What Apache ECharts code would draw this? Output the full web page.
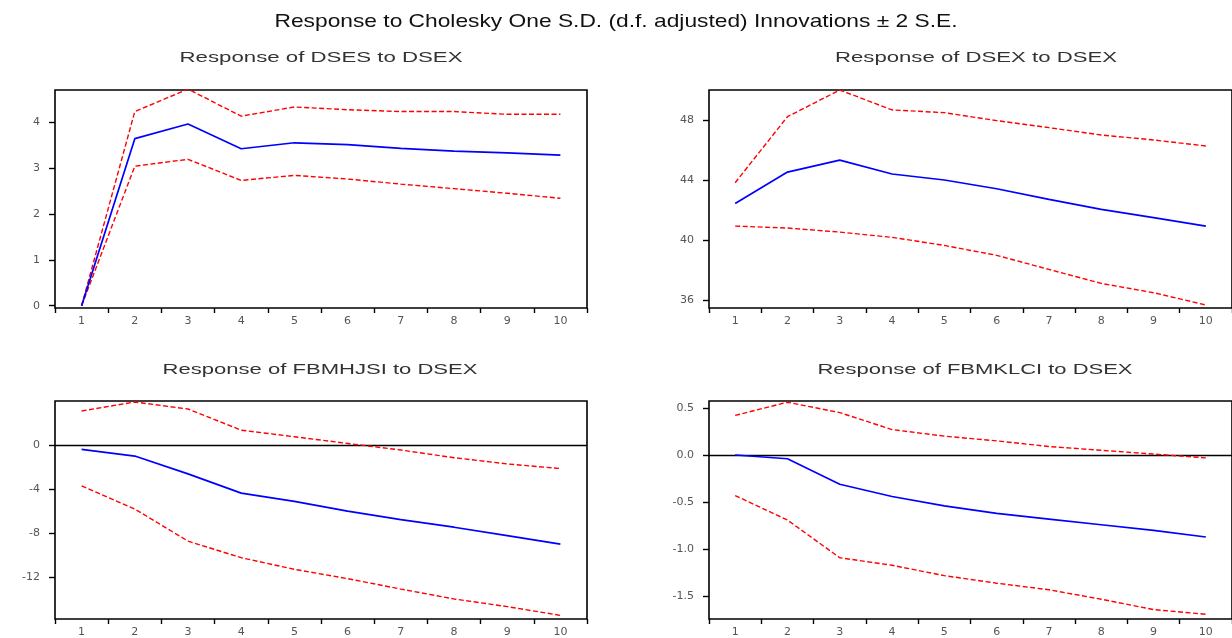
<!DOCTYPE html>
<html>
<head>
<meta charset="utf-8">
<script src="https://cdn.jsdelivr.net/npm/echarts@6/dist/echarts.min.js"></script>
<style>
html,body{margin:0;padding:0;background:#fff;}
#chart{width:1232px;height:638px;}
</style>
</head>
<body>
<div id="chart"></div>
<script>
const periods = ['1','2','3','4','5','6','7','8','9','10'];

const mainTitle = 'Response to Cholesky One S.D. (d.f. adjusted) Innovations ± 2 S.E.';
const panelTitles = ['Response of DSES to DSEX', 'Response of DSEX to DSEX',
                     'Response of FBMHJSI to DSEX', 'Response of FBMKLCI to DSEX'];

// Response of DSES to DSEX
const dsesResp  = [0, 3.64, 3.96, 3.42, 3.55, 3.51, 3.43, 3.37, 3.33, 3.28];
const dsesUpper = [0, 4.23, 4.72, 4.13, 4.33, 4.27, 4.23, 4.23, 4.17, 4.17];
const dsesLower = [0, 3.04, 3.19, 2.73, 2.84, 2.76, 2.65, 2.55, 2.45, 2.34];
const dsesTicks = [0, 1, 2, 3, 4];

// Response of DSEX to DSEX
const dsexResp  = [42.44, 44.53, 45.33, 44.40, 44.00, 43.42, 42.71, 42.04, 41.49, 40.93];
const dsexUpper = [43.82, 48.22, 50.00, 48.67, 48.49, 47.96, 47.49, 47.00, 46.67, 46.27];
const dsexLower = [40.93, 40.80, 40.53, 40.18, 39.64, 38.98, 38.04, 37.11, 36.49, 35.67];
const dsexTicks = [36, 40, 44, 48];

// Response of FBMHJSI to DSEX
const hjsiResp  = [-0.36, -0.97, -2.60, -4.35, -5.10, -6.00, -6.77, -7.46, -8.22, -9.00];
const hjsiUpper = [3.14, 3.96, 3.32, 1.39, 0.79, 0.18, -0.42, -1.12, -1.69, -2.11];
const hjsiLower = [-3.69, -5.80, -8.73, -10.24, -11.30, -12.15, -13.10, -14.00, -14.70, -15.50];
const hjsiTicks = [-12, -8, -4, 0];

// Response of FBMKLCI to DSEX
const klciResp  = [0.00, -0.04, -0.31, -0.44, -0.54, -0.62, -0.68, -0.74, -0.80, -0.87];
const klciUpper = [0.42, 0.56, 0.45, 0.27, 0.20, 0.15, 0.09, 0.05, 0.01, -0.03];
const klciLower = [-0.43, -0.69, -1.09, -1.17, -1.28, -1.36, -1.43, -1.53, -1.64, -1.69];
const klciTicks = [-1.5, -1.0, -0.5, 0.0, 0.5];

const chart = echarts.init(document.getElementById('chart'), null, {renderer:'canvas'});

const FONT = '"Liberation Sans", Arial, sans-serif';
const AXFONT = '"DejaVu Sans", sans-serif';

// measure text width to stretch titles horizontally like the reference
const mctx = document.createElement('canvas').getContext('2d');
function stretchText(text, font, cx, cy, targetW, color){
  mctx.font = font;
  const w = mctx.measureText(text).width;
  return {type:'text', x:cx, y:cy, scaleX: targetW / w, silent:true, z:10,
    style:{text:text, font:font, fill:color, align:'center', verticalAlign:'middle'}};
}

const grids = [
  {left:55,  top:90,  width:532, height:218},
  {left:709, top:90,  width:530, height:218},
  {left:55,  top:401, width:532, height:219},
  {left:709, top:401, width:530, height:219}
].map(g => Object.assign({show:true, borderColor:'#000', borderWidth:1.6, backgroundColor:'transparent'}, g));

function xAx(i){
  return {type:'category', gridIndex:i, data:periods, boundaryGap:true,
    axisLine:{show:false, onZero:false},
    axisTick:{show:true, inside:false, length:5, alignWithLabel:false, lineStyle:{color:'#000', width:1.4}},
    axisLabel:{color:'#555', fontSize:11, margin:8, fontFamily:AXFONT},
    splitLine:{show:false}};
}
function yAx(i, min, max, ticks, dec){
  return {type:'value', gridIndex:i, min:min, max:max,
    axisLine:{show:false, onZero:false}, splitLine:{show:false},
    axisTick:{show:true, length:6, customValues:ticks, lineStyle:{color:'#000', width:1.4}},
    axisLabel:{customValues:ticks, color:'#555', fontSize:11, margin:15, fontFamily:AXFONT,
      formatter: v => dec ? v.toFixed(dec) : String(Math.round(v))},
  };
}
function band(i, data){
  return {type:'line', xAxisIndex:i, yAxisIndex:i, data:data, symbol:'none', silent:true,
    lineStyle:{color:'#ff0000', width:1.4, type:[5,2.5]}, z:3};
}
function resp(i, data, zero){
  const s = {type:'line', xAxisIndex:i, yAxisIndex:i, data:data, symbol:'none', silent:true,
    lineStyle:{color:'#0000ff', width:1.7, type:'solid'}, z:4};
  if (zero) {
    s.markLine = {silent:true, symbol:['none','none'], label:{show:false},
      lineStyle:{color:'#000', width:1.4, type:'solid'}, data:[{yAxis:0}], z:2};
  }
  return s;
}

const subFont = 'normal 14px ' + FONT;
chart.setOption({
  animation:false,
  backgroundColor:'#fff',
  graphic:[
    stretchText(mainTitle, 'normal 19px ' + FONT, 616, 22, 683, '#111'),
    stretchText(panelTitles[0], subFont, 321, 58, 283, '#333'),
    stretchText(panelTitles[1], subFont, 976, 58, 282, '#333'),
    stretchText(panelTitles[2], subFont, 320, 370, 315, '#333'),
    stretchText(panelTitles[3], subFont, 975, 370, 315, '#333')
  ],
  grid:grids,
  xAxis:[xAx(0), xAx(1), xAx(2), xAx(3)],
  yAxis:[
    yAx(0, -0.05, 4.70, dsesTicks, 0),
    yAx(1, 35.47, 50.0, dsexTicks, 0),
    yAx(2, -15.83, 4.05, hjsiTicks, 0),
    yAx(3, -1.74, 0.573, klciTicks, 1)
  ],
  series:[
    band(0, dsesUpper), band(0, dsesLower), resp(0, dsesResp, false),
    band(1, dsexUpper), band(1, dsexLower), resp(1, dsexResp, false),
    band(2, hjsiUpper), band(2, hjsiLower), resp(2, hjsiResp, true),
    band(3, klciUpper), band(3, klciLower), resp(3, klciResp, true)
  ]
});
</script>
</body>
</html>
